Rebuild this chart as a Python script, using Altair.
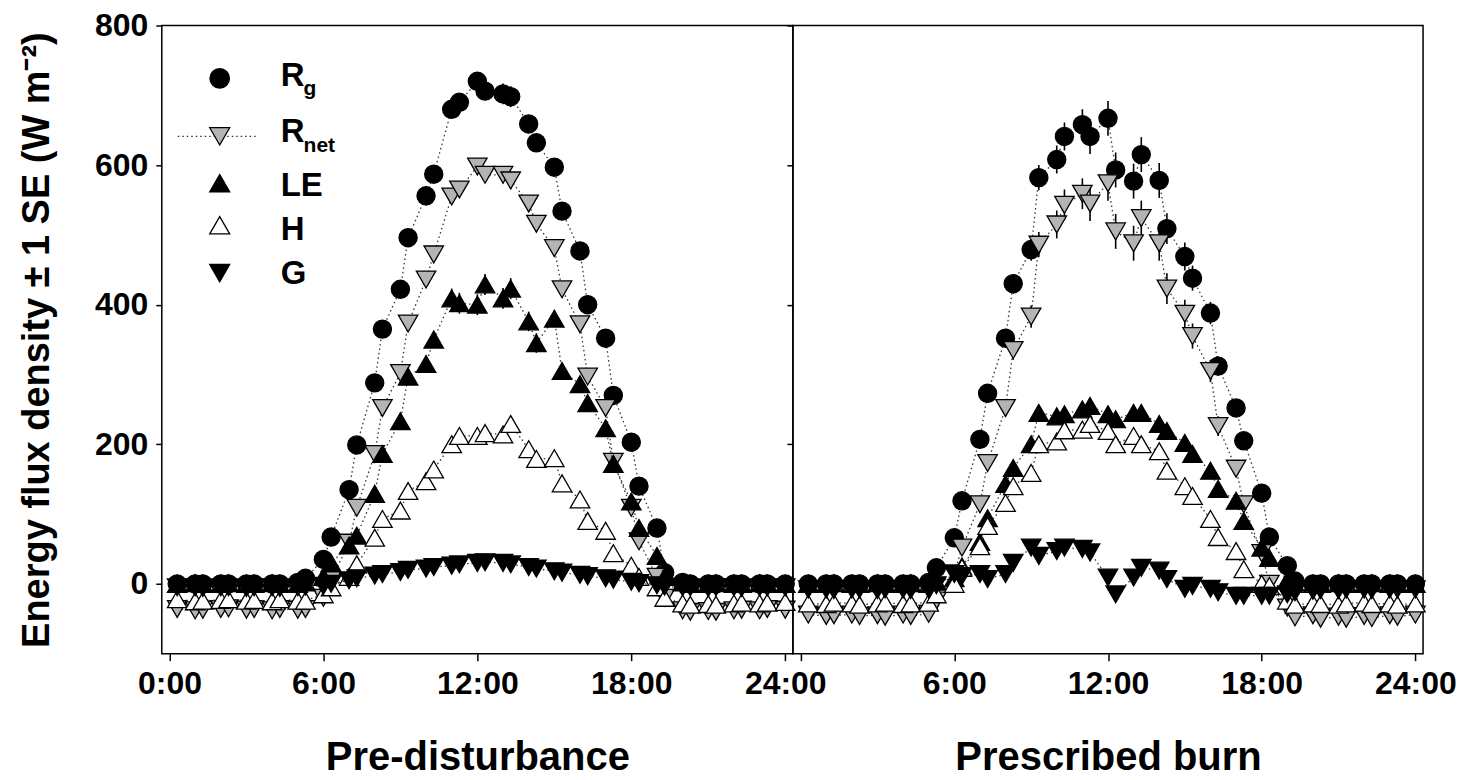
import altair as alt
import pandas as pd

# time stamps as printed in the logger (hh.mm read as decimal hours)
TIMES = [0.3, 1.0, 1.3, 2.0, 2.3, 3.0, 3.3, 4.0, 4.3, 5.0, 5.3,
         6.0, 6.3, 7.0, 7.3, 8.0, 8.3, 9.0, 9.3, 10.0, 10.3, 11.0, 11.3,
         12.0, 12.3, 13.0, 13.3, 14.0, 14.3, 15.0, 15.3, 16.0, 16.3, 17.0, 17.3,
         18.0, 18.3, 19.0, 19.3, 20.0, 20.3, 21.0, 21.3, 22.0, 22.3, 23.0, 23.3, 24.0]

# ---------------- Pre-disturbance ----------------
rg_pre = [0, 0, 0, 0, 0, 0, 0, 0, 0, 2, 8,
          35, 67, 135, 199, 288, 365, 422, 496, 556, 587, 680, 690,
          720, 706, 702, 698, 659, 632, 597, 534, 477, 400, 352, 270,
          203, 140, 80, 16, 2, 0, 0, 0, 0, 0, 0, 0, 0]
rnet_pre = [-36, -38, -37, -36, -35, -37, -36, -38, -36, -37, -36,
            -20, 5, 59, 109, 186, 252, 302, 373, 436, 472, 555, 565,
            598, 586, 586, 578, 545, 516, 481, 422, 372, 297, 252, 175,
            109, 61, 10, -20, -38, -40, -39, -40, -38, -37, -38, -36, -37]
le_pre = [0, 1, 0, 0, 1, 0, 0, 1, 0, 0, 2,
          10, 30, 55, 69, 129, 186, 233, 297, 315, 350, 409, 402,
          400, 429, 409, 423, 376, 345, 380, 305, 286, 259, 223, 172,
          118, 80, 40, 10, 2, 0, 0, 1, 0, 0, 1, 0, 0]
h_pre = [-22, -25, -24, -23, -22, -24, -23, -25, -22, -24, -24,
         -15, -5, 10, 28, 66, 93, 105, 133, 147, 164, 200, 212,
         212, 216, 214, 229, 193, 179, 180, 144, 121, 90, 76, 44,
         26, 10, -5, -20, -28, -30, -29, -30, -28, -27, -28, -27, -26]
g_pre = [-5, -5, -6, -5, -5, -6, -5, -5, -6, -5, -4,
         -3, 0, 5, 8, 12, 14, 17, 20, 22, 24, 26, 28,
         30, 31, 30, 28, 24, 22, 18, 16, 13, 11, 8, 6,
         3, 1, -2, -4, -5, -5, -6, -5, -5, -6, -5, -5, -5]

rg_se_pre = [1, 1, 1, 1, 1, 1, 1, 1, 1, 1, 2,
             3, 4, 5, 6, 8, 8, 10, 12, 14, 10, 10, 12,
             12, 12, 15, 15, 12, 12, 10, 10, 10, 8, 8, 8,
             6, 5, 4, 3, 1, 1, 1, 1, 1, 1, 1, 1, 1]
rnet_se_pre = [2, 2, 2, 2, 2, 2, 2, 2, 2, 2, 2,
               3, 4, 5, 6, 8, 8, 10, 12, 12, 10, 10, 10,
               10, 10, 12, 12, 12, 10, 10, 10, 10, 10, 8, 8,
               6, 5, 4, 3, 2, 2, 2, 2, 2, 2, 2, 2, 2]
le_se_pre = [1, 1, 1, 1, 1, 1, 1, 1, 1, 1, 1,
             2, 3, 4, 6, 8, 10, 12, 12, 12, 12, 14, 15,
             15, 15, 15, 15, 14, 14, 12, 12, 12, 10, 10, 10,
             8, 6, 4, 2, 1, 1, 1, 1, 1, 1, 1, 1, 1]
h_se_pre = [1, 1, 1, 1, 1, 1, 1, 1, 1, 1, 1,
            2, 3, 4, 5, 6, 6, 7, 7, 8, 8, 8, 8,
            8, 8, 8, 8, 8, 8, 8, 8, 7, 7, 6, 5,
            4, 3, 2, 2, 1, 1, 1, 1, 1, 1, 1, 1, 1]
g_se_pre = [2] * 48

# ---------------- Prescribed burn ----------------
rg_burn = [0, 0, 0, 0, 0, 0, 0, 0, 0, 2, 23,
           66, 119, 207, 273, 352, 430, 479, 582, 608, 641, 658, 641,
           667, 593, 577, 615, 578, 509, 469, 438, 388, 312, 252, 205,
           130, 67, 26, 4, 0, 0, 0, 0, 0, 0, 0, 0, 0]
rnet_burn = [-44, -46, -45, -44, -46, -45, -47, -44, -46, -43, -24,
             15, 52, 114, 173, 252, 335, 383, 486, 515, 543, 559, 545,
             574, 505, 488, 524, 488, 423, 387, 355, 305, 226, 165, 114,
             44, 0, -34, -48, -45, -50, -47, -50, -46, -49, -45, -47, -44]
le_burn = [0, 0, 1, 0, 0, 1, 0, 0, 1, 0, 3,
           8, 25, 60, 94, 143, 166, 200, 245, 240, 243, 250, 255,
           243, 236, 245, 245, 229, 219, 202, 186, 162, 136, 119, 90,
           52, 37, 5, 0, 0, 0, 1, 0, 0, 1, 0, 0, 0]
h_burn = [-28, -29, -27, -28, -30, -28, -27, -29, -28, -27, -15,
          0, 23, 54, 83, 116, 140, 159, 200, 204, 220, 221, 229,
          219, 200, 212, 200, 190, 162, 140, 126, 93, 67, 47, 21,
          0, -3, -24, -30, -28, -29, -30, -28, -27, -29, -28, -30, -28]
g_burn = [-8, -8, -9, -8, -8, -9, -8, -8, -9, -8, -2,
          14, 11, 14, 7, 14, 30, 52, 40, 47, 52, 50, 45,
          9, -15, 9, 23, 19, 7, -7, -3, -7, -12, -17, -17,
          -17, -17, -15, -12, -10, -9, -9, -8, -8, -9, -8, -8, -8]

rg_se_burn = [1, 1, 1, 1, 1, 1, 1, 1, 1, 1, 2,
              4, 6, 8, 10, 12, 14, 16, 18, 20, 20, 22, 25,
              25, 25, 25, 25, 25, 22, 20, 18, 16, 14, 12, 10,
              8, 6, 4, 3, 1, 1, 1, 1, 1, 1, 1, 1, 1]
rnet_se_burn = [2, 2, 2, 2, 2, 2, 2, 2, 2, 2, 2,
                4, 6, 8, 10, 12, 14, 16, 18, 20, 22, 22, 25,
                25, 25, 25, 25, 25, 22, 20, 18, 16, 14, 12, 10,
                8, 6, 4, 3, 2, 2, 2, 2, 2, 2, 2, 2, 2]
le_se_burn = [1, 1, 1, 1, 1, 1, 1, 1, 1, 1, 1,
              3, 4, 5, 6, 8, 8, 10, 10, 10, 10, 10, 10,
              10, 10, 10, 10, 10, 10, 10, 8, 8, 8, 6, 6,
              5, 4, 3, 2, 1, 1, 1, 1, 1, 1, 1, 1, 1]
h_se_burn = [1, 1, 1, 1, 1, 1, 1, 1, 1, 1, 1,
             3, 4, 5, 6, 8, 8, 9, 9, 10, 10, 10, 10,
             10, 10, 10, 10, 9, 9, 8, 8, 8, 7, 6, 5,
             4, 3, 2, 2, 1, 1, 1, 1, 1, 1, 1, 1, 1]
g_se_burn = [3] * 48

SERIES = ["Rg", "Rnet", "LE", "H", "G"]
PANELS = {
    "pre": {"Rg": (rg_pre, rg_se_pre), "Rnet": (rnet_pre, rnet_se_pre), "LE": (le_pre, le_se_pre),
            "H": (h_pre, h_se_pre), "G": (g_pre, g_se_pre)},
    "burn": {"Rg": (rg_burn, rg_se_burn), "Rnet": (rnet_burn, rnet_se_burn), "LE": (le_burn, le_se_burn),
             "H": (h_burn, h_se_burn), "G": (g_burn, g_se_burn)},
}

rows = []
for panel, d in PANELS.items():
    for s in SERIES:
        vals, ses = d[s]
        for t, v, e in zip(TIMES, vals, ses):
            rows.append({"panel": panel, "series": s, "t": t, "v": v, "lo": v - e, "hi": v + e})
df = pd.DataFrame(rows)

FONT = "Liberation Sans"
STYLE = {
    "Rg": dict(shape="circle", fill="black", size=330),
    "Rnet": dict(shape="triangle-down", fill="#b4b4b4", size=380),
    "LE": dict(shape="triangle-up", fill="black", size=380),
    "H": dict(shape="triangle-up", fill="white", size=380),
    "G": dict(shape="triangle-down", fill="black", size=380),
}

W1, W2, HGT = 632, 631, 629


def make_panel(panel, x_title, left):
    sub = df[df.panel == panel]
    if left:
        xaxis = alt.Axis(values=[0, 6, 12, 18, 24], labelExpr="datum.value + ':00'", title=x_title,
                         titlePadding=38, labelPadding=8, tickSize=7)
        yaxis = alt.Axis(values=[0, 200, 400, 600, 800], title="Energy flux density \u00b1 1 SE (W m\u207b\u00b2)",
                         titlePadding=38, labelPadding=8, tickSize=6, titleFontSize=38)
    else:
        xaxis = alt.Axis(values=[0, 6, 12, 18, 24],
                         labelExpr="datum.value == 0 ? '' : datum.value + ':00'", title=x_title,
                         titlePadding=38, labelPadding=8, tickSize=7)
        yaxis = alt.Axis(values=[0, 200, 400, 600, 800], labels=False, title=None, tickSize=6)
    X = alt.X("t:Q", scale=alt.Scale(domain=[-0.3, 24.3], nice=False, zero=False), axis=xaxis)
    Y = alt.Y("v:Q", scale=alt.Scale(domain=[-100, 800], nice=False, zero=False), axis=yaxis)
    layers = []
    for s in SERIES:
        d = sub[sub.series == s]
        base = alt.Chart(d)
        st = STYLE[s]
        layers.append(base.mark_line(strokeDash=[1.5, 3], color="#333333", strokeWidth=1.3).encode(x=X, y=Y))
        layers.append(base.mark_rule(color="black", strokeWidth=1.6).encode(x=X, y=alt.Y("lo:Q"), y2="hi:Q"))
        layers.append(base.mark_point(shape=st["shape"], filled=True, fill=st["fill"], stroke="black",
                                      strokeWidth=1.3, size=st["size"], opacity=1, fillOpacity=1)
                      .encode(x=X, y=Y))
    if left:
        one = pd.DataFrame({"k": [0]})
        lx, tx = 58, 119
        # legend symbols
        sym_rows = [("Rg", 53), ("Rnet", 111), ("LE", 158), ("H", 200), ("G", 248)]
        layers.append(alt.Chart(one).mark_rule(strokeDash=[1.5, 3], color="#333333", strokeWidth=1.3)
                      .encode(x=alt.value(16), x2=alt.value(95), y=alt.value(111)))
        for s, yy in sym_rows:
            st = STYLE[s]
            layers.append(alt.Chart(one).mark_point(shape=st["shape"], filled=True, fill=st["fill"], stroke="black",
                                                    strokeWidth=1.3, size=400 if s != "Rg" else 380, opacity=1)
                          .encode(x=alt.value(lx), y=alt.value(yy)))
        texts = [("R", tx, 61, 33), ("g", tx + 23, 70, 21),
                 ("R", tx, 117, 33), ("net", tx + 23, 127, 21),
                 ("LE", tx, 171, 33), ("H", tx, 215, 33), ("G", tx, 259, 33)]
        for txt, xx, yy, fs in texts:
            layers.append(alt.Chart(one).mark_text(text=txt, font=FONT, fontWeight="bold", fontSize=fs,
                                                   align="left", baseline="alphabetic", color="black")
                          .encode(x=alt.value(xx), y=alt.value(yy)))
    return alt.layer(*layers).properties(width=W1 if left else W2, height=HGT)


left = make_panel("pre", "Pre-disturbance", True)
right = make_panel("burn", "Prescribed burn", False)

chart = (alt.hconcat(left, right, spacing=0, bounds="flush")
         .properties(padding={"left": 9, "top": 0, "right": 5, "bottom": 0})
         .configure_view(stroke="black", strokeWidth=1.5)
         .configure_axis(grid=False, domain=False, tickColor="black", tickWidth=1.5,
                         labelFont=FONT, labelFontWeight="bold", labelFontSize=32, labelColor="black",
                         titleFont=FONT, titleFontWeight="bold", titleFontSize=40, titleColor="black"))

chart.save("out.html", embed_options={"renderer": "svg", "actions": False})
